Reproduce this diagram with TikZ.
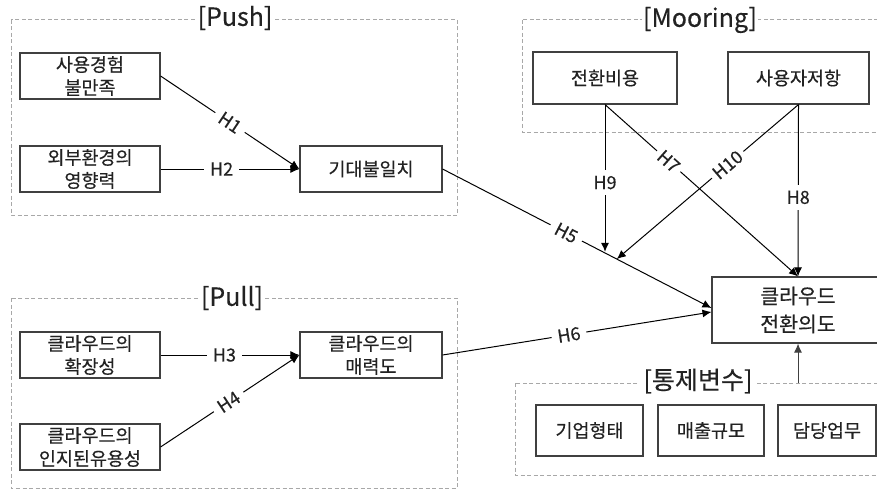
\documentclass[tikz,border=0pt]{standalone}
\usepackage{fontspec}
\setmainfont{Noto Sans CJK KR}[FakeBold=0.35]
\usetikzlibrary{arrows.meta,calc}
\definecolor{boxline}{HTML}{404040}
\definecolor{grpline}{HTML}{A8A8A8}
\definecolor{txt}{HTML}{222222}
\tikzset{
  vbox/.style={draw=boxline, line width=1.1pt, fill=white, text=txt, align=center, inner sep=0pt,
    font=\fontsize{18.5}{23}\selectfont},
  grp/.style={draw=grpline, line width=1pt, dash pattern=on 4pt off 2.5pt},
  grplabel/.style={fill=white, text=txt, inner xsep=1.5pt, inner ysep=0pt, font=\fontsize{25}{28}\selectfont},
  hyp/.style={draw=black, line width=1pt, -{Latex[length=9pt,width=8pt]}},
  hlab/.style={fill=white, text=txt, inner xsep=6pt, inner ysep=1pt, font=\fontsize{18}{20}\selectfont},
}
\begin{document}
\begin{tikzpicture}[x=1pt,y=-1pt]
\clip (0,0) rectangle (877,492);
\fill[white] (0,0) rectangle (877,492);
% group frames
\draw[grp] (11,20) rectangle (457,215);
\draw[grp] (11,298) rectangle (457,488);
\draw[grp] (522,20) rectangle (900,132);
\draw[grp] (515,383) rectangle (900,475);
\node[grplabel] (lpush) at (235,18) {[Push]};
\node[grplabel] (lpull) at (232,298) {[Pull]};
\node[grplabel] (lmoor) at (700,20) {[Mooring]};
\node[grplabel, inner xsep=4pt] (lctl) at (698,381) {[통제변수]};
% boxes
\node[vbox, minimum width=140pt, minimum height=46pt] (ux) at (90,76) {사용경험\\불만족};
\node[vbox, minimum width=140pt, minimum height=46pt] (ext) at (90,169) {외부환경의\\영향력};
\node[vbox, minimum width=142pt, minimum height=46pt] (exp) at (371,169) {기대불일치};
\node[vbox, minimum width=140pt, minimum height=46pt] (sc) at (90,355) {클라우드의\\확장성};
\node[vbox, minimum width=142pt, minimum height=46pt] (att) at (371,355) {클라우드의\\매력도};
\node[vbox, minimum width=140pt, minimum height=46pt] (use) at (90,447) {클라우드의\\인지된유용성};
\node[vbox, minimum width=144pt, minimum height=52pt] (cost) at (605,78) {전환비용};
\node[vbox, minimum width=141pt, minimum height=52pt] (res) at (798.5,78) {사용자저항};
\node[vbox, minimum width=172pt, minimum height=66pt, font=\fontsize{20.5}{28}\selectfont] (int) at (798,310) {클라우드\\전환의도};
\node[vbox, minimum width=107pt, minimum height=51pt] (firm) at (589.5,430.5) {기업형태};
\node[vbox, minimum width=106pt, minimum height=51pt] (sales) at (711,430.5) {매출규모};
\node[vbox, minimum width=98pt, minimum height=51pt] (task) at (827,430.5) {담당업무};
% connectors
\draw[hyp] (ux.east) -- node[hlab, sloped, pos=0.5] {H1} (exp.west);
\draw[hyp] (ext.east) -- node[hlab, pos=0.44] {H2} (exp.west);
\draw[hyp] (sc.east) -- node[hlab, pos=0.46] {H3} (att.west);
\draw[hyp] (use.east) -- node[hlab, sloped, pos=0.49] {H4} (att.west);
\draw[hyp] (exp.east) -- node[hlab, sloped, pos=0.46] {H5} ([yshift=2pt]int.west);
\draw[hyp] (att.east) -- node[hlab, sloped, pos=0.47] {H6} ([yshift=-2pt]int.west);
\coordinate (j9) at ($(exp.east)!0.596!([yshift=2pt]int.west)$);
\coordinate (j10) at ($(exp.east)!0.648!([yshift=2pt]int.west)$);
\draw[hyp] (cost.south) -- node[hlab, sloped, inner xsep=4pt, pos=0.33] {H7} (int.north);
\draw[hyp] (res.south) -- node[hlab, inner xsep=1pt, inner ysep=6pt, pos=0.54] {H8} (int.north);
\draw[hyp] (cost.south) -- node[hlab, inner xsep=1pt, inner ysep=6pt, pos=0.53] {H9} (cost.south |- j9);
\draw[hyp] (res.south) -- node[hlab, sloped, inner xsep=4pt, pos=0.39] {H10} (j10);
\coordinate (ctl) at (798,383);
\draw[hyp, draw=boxline] (ctl) -- (int.south);
\end{tikzpicture}
\end{document}
